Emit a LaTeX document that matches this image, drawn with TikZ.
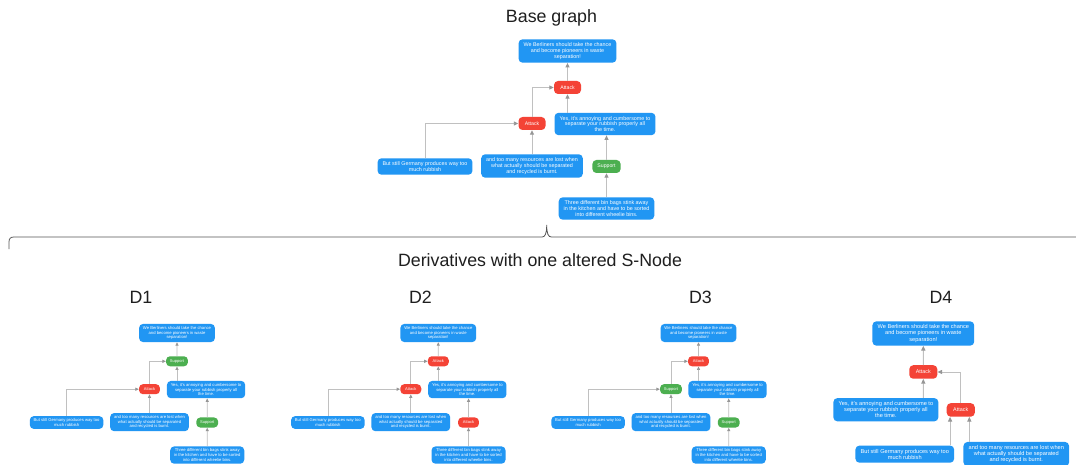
\documentclass[tikz,border=0pt]{standalone}
\usepackage{fontspec}
\setmainfont{Liberation Sans}
\usetikzlibrary{arrows.meta,calc}

\definecolor{claimblue}{RGB}{33,150,243}
\definecolor{attackred}{RGB}{244,67,54}
\definecolor{supportgreen}{RGB}{76,175,80}
\definecolor{linkgray}{RGB}{192,192,192}
\definecolor{tipgray}{RGB}{150,150,150}
\definecolor{bracegray}{RGB}{85,85,85}

\tikzset{
  claim/.style={rectangle, rounded corners=4pt, fill=claimblue, text=white,
    align=center, font=\fontsize{5.4}{5.9}\selectfont, inner xsep=5pt, inner ysep=3.3pt},
  rel/.style={rectangle, rounded corners=4pt, text=white,
    font=\fontsize{5.2}{6}\selectfont, minimum width=27pt, minimum height=13pt,
    inner xsep=5pt, inner ysep=0pt},
  relAttack/.style={rel, fill=attackred},
  relSupport/.style={rel, fill=supportgreen},
  link/.style={draw=linkgray, line width=#1*0.9pt,
    -{Triangle[length=4.5pt, width=4pt, color=tipgray, scale=#1]}},
  title/.style={font=\fontsize{17.8}{20}\selectfont, anchor=base, text=black!88},
}

% claim texts
\newcommand\txtTop{We Berliners should take the chance\\and become pioneers in waste\\separation!}
\newcommand\txtYes{Yes, it's annoying and cumbersome to\\separate your rubbish properly all\\the time.}
\newcommand\txtStill{But still Germany produces way too\\much rubbish}
\newcommand\txtMany{and too many resources are lost when\\what actually should be separated\\and recycled is burnt.}
\newcommand\txtBins{Three different bin bags stink away\\in the kitchen and have to be sorted\\into different wheelie bins.}

% argument map: #1 name prefix, #2 position of the top claim, #3 scale,
% #4 #5 #6 the three relations (Attack or Support)
\newcommand\argmap[6]{%
  \begin{scope}[shift={#2}, scale=#3, transform shape]
    \node[claim] (#1T) at (0,0) {\txtTop};
    \node[rel#4] (#1r1) at (0,36.5) {#4};
    \node[rel#5] (#1r2) at (-35.5,72.5) {#5};
    \node[claim] (#1Y) at (37.5,73) {\txtYes};
    \node[claim] (#1B) at (-142.5,115.5) {\txtStill};
    \node[claim] (#1M) at (-35.5,115) {\txtMany};
    \node[rel#6] (#1r3) at (39,115.5) {#6};
    \node[claim] (#1H) at (39,157.5) {\txtBins};
    \draw[link=#3] (#1r1) -- (#1T);
    \draw[link=#3] (#1r2) |- (#1r1);
    \draw[link=#3] (#1B) |- (#1r2);
    \draw[link=#3] (#1M) -- (#1r2);
    \draw[link=#3] (#1Y.north -| #1r1) -- (#1r1);
    \draw[link=#3] (#1r3) -- (#1Y.south -| #1r3);
    \draw[link=#3] (#1H) -- (#1r3);
  \end{scope}}

\begin{document}
\begin{tikzpicture}[x=1pt, y=-1pt]
  \path[use as bounding box, fill=white] (0,0) rectangle (1076,465);

  % headings
  \node[title] (tBase) at (551.5,22.7) {Base graph};
  \node[title] (tDer) at (540,266.7) {Derivatives with one altered S-Node};
  \node[title] (tD1) at (141,303) {D1};
  \node[title] (tD2) at (420.5,303) {D2};
  \node[title] (tD3) at (700.5,303) {D3};
  \node[title] (tD4) at (941,303) {D4};

  % brace under the base graph
  \draw[bracegray, line width=0.8pt]
    (9,249) -- (9,242) .. controls (9,238.5) and (10.5,237) .. (14,237)
    -- (542,237) .. controls (545,237) and (546.7,234) .. (546.7,225)
    .. controls (546.7,234) and (548.4,237) .. (551.4,237)
    -- (1079,237) .. controls (1082.5,237) and (1084,238.5) .. (1084,242)
    -- (1084,249);

  % base graph and the first three derivatives
  \argmap{b}{(567.5,51)}{1}{Attack}{Attack}{Support}
  \argmap{p}{(177,333)}{0.775}{Support}{Attack}{Support}
  \argmap{q}{(438.3,333)}{0.775}{Attack}{Attack}{Attack}
  \argmap{s}{(698.5,333)}{0.775}{Attack}{Support}{Support}

  % fourth derivative
  \begin{scope}[shift={(923.3,333.5)}, scale=1.04, transform shape]
    \node[claim] (eT) at (0,0) {\txtTop};
    \node[relAttack] (er1) at (0,37) {Attack};
    \node[claim] (eY) at (-36,73.3) {\txtYes};
    \node[relAttack] (er2) at (36,73.5) {Attack};
    \node[claim] (eB) at (-17.8,116) {\txtStill};
    \node[claim] (eM) at (89.4,116) {\txtMany};
    \coordinate (eBin) at ($(er2.south)!0.75!(er2.south west)$);
    \coordinate (eMin) at ($(er2.south)!0.6!(er2.south east)$);
    \draw[link=1.04] (er1) -- (eT);
    \draw[link=1.04] (eY.north -| er1) -- (er1);
    \draw[link=1.04] (er2) |- (er1);
    \draw[link=1.04] (eB.north -| eBin) -- (eBin);
    \draw[link=1.04] (eM.north -| eMin) -- (eMin);
  \end{scope}
\end{tikzpicture}
\end{document}
